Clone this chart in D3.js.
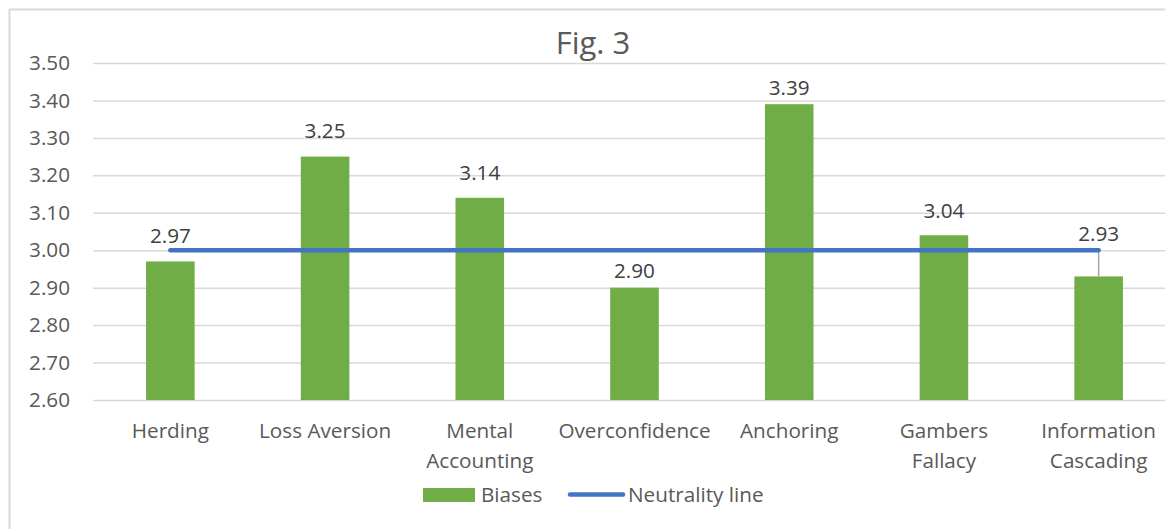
<!DOCTYPE html>
<html>
<head>
<meta charset="utf-8">
<script src="https://cdn.jsdelivr.net/npm/d3@7"></script>
<style>
  html, body { margin: 0; padding: 0; background: #ffffff; }
  svg { display: block; font-family: "Open Sans", "Noto Sans", sans-serif; }
</style>
</head>
<body>
<svg id="chart" width="1165" height="529"></svg>
<script>
// Mean scores for each behavioural bias
const categories = ["Herding", "Loss Aversion", "Mental Accounting", "Overconfidence",
                    "Anchoring", "Gambers Fallacy", "Information Cascading"];
const biases = [2.97, 3.25, 3.14, 2.90, 3.39, 3.04, 2.93];
const neutrality = [3.00, 3.00, 3.00, 3.00, 3.00, 3.00, 3.00];
const yTicks = [2.60, 2.70, 2.80, 2.90, 3.00, 3.10, 3.20, 3.30, 3.40, 3.50];
const title = "Fig. 3";
const seriesNames = ["Biases", "Neutrality line"];

// Distance (px) of each value label above its bar
const labelLift = [26, 26, 25, 17, 16, 24, 43];
const FS = 20.7;

const svg = d3.select("#chart");
const plot = { left: 93, right: 1176, top: 63, bottom: 400 };

const x = d3.scaleBand()
  .domain(categories)
  .range([plot.left, plot.right])
  .paddingInner(0.686)
  .paddingOuter(0.343);

const y = d3.scaleLinear()
  .domain([2.6, 3.5])
  .range([plot.bottom, plot.top]);

// Chart area frame
svg.append("rect")
  .attr("x", 9.5).attr("y", 9.5)
  .attr("width", 1200).attr("height", 560)
  .attr("fill", "#ffffff")
  .attr("stroke", "#d9d9d9").attr("stroke-width", 2);

// Title
svg.append("text")
  .attr("x", 593).attr("y", 43)
  .attr("text-anchor", "middle").attr("dy", "0.35em")
  .attr("font-size", 31).attr("fill", "#595959")
  .text(title);

// Horizontal gridlines and value axis
const yAxis = d3.axisLeft(y)
  .tickValues(yTicks)
  .tickFormat(d3.format(".2f"))
  .tickSize(-(plot.right - plot.left))
  .tickPadding(23);

const gy = svg.append("g")
  .attr("transform", `translate(${plot.left},0)`)
  .call(yAxis);
gy.select(".domain").remove();
gy.selectAll(".tick line").attr("stroke", "#d9d9d9").attr("stroke-width", 1.5);
gy.selectAll(".tick text")
  .attr("font-size", FS).attr("fill", "#595959")
  .attr("font-family", "'Open Sans', 'Noto Sans', sans-serif");

// Category axis labels, wrapped onto two lines where needed
function wrapLines(label, maxWidth) {
  const words = label.split(" ");
  const probe = svg.append("text").attr("font-size", FS).attr("visibility", "hidden");
  const lines = [];
  let cur = "";
  words.forEach(w => {
    const test = cur ? cur + " " + w : w;
    probe.text(test);
    if (cur && probe.node().getComputedTextLength() > maxWidth) {
      lines.push(cur);
      cur = w;
    } else {
      cur = test;
    }
  });
  if (cur) lines.push(cur);
  probe.remove();
  return lines;
}

const xAxis = d3.axisBottom(x).tickSize(0).tickPadding(0);
const gx = svg.append("g")
  .attr("transform", `translate(0,${plot.bottom})`)
  .call(xAxis);
gx.select(".domain").remove();
gx.selectAll(".tick text").remove();
gx.selectAll(".tick").each(function (d) {
  const lines = wrapLines(d, 145);
  const t = d3.select(this).append("text")
    .attr("text-anchor", "middle")
    .attr("font-size", FS).attr("fill", "#595959")
    .attr("font-family", "'Open Sans', 'Noto Sans', sans-serif");
  lines.forEach((ln, i) => {
    t.append("tspan").attr("x", 0).attr("y", 31 + i * 30).attr("dy", "0.35em").text(ln);
  });
});

// Bars
svg.append("g").selectAll("rect")
  .data(categories)
  .join("rect")
  .attr("x", d => x(d))
  .attr("width", x.bandwidth())
  .attr("y", (d, i) => y(biases[i]))
  .attr("height", (d, i) => y(2.6) - y(biases[i]))
  .attr("fill", "#70ad47");

// Leader line for the raised label
const last = categories.length - 1;
svg.append("line")
  .attr("x1", x(categories[last]) + x.bandwidth() / 2)
  .attr("x2", x(categories[last]) + x.bandwidth() / 2)
  .attr("y1", y(neutrality[last]))
  .attr("y2", y(biases[last]))
  .attr("stroke", "#a6a6a6").attr("stroke-width", 1.5);

// Neutrality line
const line = d3.line()
  .x((d, i) => x(categories[i]) + x.bandwidth() / 2)
  .y(d => y(d));
svg.append("path")
  .datum(neutrality)
  .attr("d", line)
  .attr("fill", "none")
  .attr("stroke", "#4472c4").attr("stroke-width", 4.5)
  .attr("stroke-linecap", "round");

// Value labels
svg.append("g").selectAll("text")
  .data(categories)
  .join("text")
  .attr("x", d => x(d) + x.bandwidth() / 2)
  .attr("y", (d, i) => y(biases[i]) - labelLift[i])
  .attr("dy", "0.35em")
  .attr("text-anchor", "middle")
  .attr("font-size", FS).attr("fill", "#404040")
  .text((d, i) => d3.format(".2f")(biases[i]));

// Legend
const lg = svg.append("g");
lg.append("rect")
  .attr("x", 423).attr("y", 488).attr("width", 52).attr("height", 14)
  .attr("fill", "#70ad47");
lg.append("text")
  .attr("x", 481).attr("y", 495).attr("dy", "0.35em")
  .attr("font-size", FS).attr("fill", "#595959")
  .text(seriesNames[0]);
lg.append("line")
  .attr("x1", 570).attr("x2", 623).attr("y1", 494.5).attr("y2", 494.5)
  .attr("stroke", "#4472c4").attr("stroke-width", 4.5)
  .attr("stroke-linecap", "round");
lg.append("text")
  .attr("x", 628).attr("y", 495).attr("dy", "0.35em")
  .attr("font-size", FS).attr("fill", "#595959")
  .text(seriesNames[1]);
</script>
</body>
</html>
